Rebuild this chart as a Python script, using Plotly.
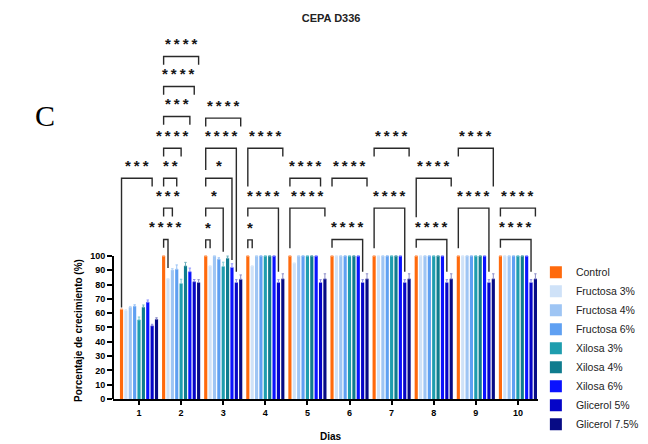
import plotly.graph_objects as go

# ---------------- data ----------------
days = [1, 2, 3, 4, 5, 6, 7, 8, 9, 10]
day_labels = ["1", "2", "3", "4", "5", "6", "7", "8", "9", "10"]

series_names = ["Control", "Fructosa 3%", "Fructosa 4%", "Fructosa 6%",
                "Xilosa 3%", "Xilosa 4%", "Xilosa 6%", "Glicerol 5%", "Glicerol 7.5%"]

control = [62.8, 100, 100, 100, 100, 100, 100, 100, 100, 100]
fructosa3 = [61.9, 84.0, 93.0, 93.0, 95.0, 100, 100, 100, 100, 100]
fructosa4 = [64.2, 90.2, 100, 100, 100, 100, 100, 100, 100, 100]
fructosa6 = [64.9, 90.7, 97.7, 100, 100, 100, 100, 100, 100, 100]
xilosa3 = [55.3, 80.7, 92.6, 100, 100, 100, 100, 100, 100, 100]
xilosa4 = [64.2, 93.0, 98.4, 100, 100, 100, 100, 100, 100, 100]
xilosa6 = [67.7, 89.0, 92.0, 100, 100, 100, 100, 100, 100, 100]
glicerol5 = [51.2, 82.0, 81.4, 81.4, 81.4, 81.4, 81.4, 81.4, 81.4, 81.4]
glicerol75 = [55.8, 81.4, 83.7, 84.0, 84.0, 84.0, 84.0, 84.0, 84.0, 84.0]

err_control = [0, 0, 0, 0, 0, 0, 0, 0, 0, 0]
err_fructosa3 = [0.5, 0, 0, 0, 0, 0, 0, 0, 0, 0]
err_fructosa4 = [0.5, 1.0, 0, 0, 0, 0, 0, 0, 0, 0]
err_fructosa6 = [1.0, 3.0, 1.0, 0, 0, 0, 0, 0, 0, 0]
err_xilosa3 = [2.0, 3.0, 3.0, 0, 0, 0, 0, 0, 0, 0]
err_xilosa4 = [1.5, 2.5, 1.5, 0, 0, 0, 0, 0, 0, 0]
err_xilosa6 = [1.5, 2.5, 2.5, 0, 0, 0, 0, 0, 0, 0]
err_glicerol5 = [1.0, 1.5, 2.0, 2.0, 2.0, 2.0, 2.0, 2.0, 2.0, 2.0]
err_glicerol75 = [1.0, 2.0, 3.0, 3.5, 3.5, 3.5, 3.5, 3.5, 3.5, 3.5]

# significance brackets: control bar of a day vs bar index (0..8)
br_day = [1, 2, 2, 2, 2, 2, 2, 2, 3, 3, 3, 3, 3, 4, 4, 4, 5, 5, 6, 6, 7, 7, 8, 8, 9, 9, 10, 10]
br_bar = [7, 8, 7, 6, 4, 3, 2, 1, 8, 7, 6, 4, 1, 8, 7, 1, 7, 8, 8, 7, 8, 7, 8, 7, 8, 7, 8, 7]
br_level = [154.3, 239.4, 218.4, 197.4, 175.3, 154.3, 133.4, 111.5,
            196.3, 175.3, 154.3, 133.4, 111.2,
            175.3, 133.4, 111.2,
            154.3, 133.4,
            154.3, 111.5,
            175.3, 133.4,
            154.3, 111.5,
            175.3, 133.4,
            133.4, 111.5]
# leg bottoms (None = short leg)
br_left_bottom = [64.0, None, None, None, None, None, None, None,
                  None, 160.1, None, None, None,
                  148.5, None, None,
                  None, 105.4,
                  None, None,
                  None, 105.4,
                  127.1, None,
                  None, 105.4,
                  None, None]
br_right_bottom = [None, None, None, None, None, None, None, 91.6,
                   None, 89.0, 97.2, 103.0, None,
                   None, 89.0, None,
                   None, None,
                   None, 89.0,
                   None, 89.0,
                   None, 89.0,
                   148.5, 89.0,
                   None, 89.0]
br_label = ["***", "****", "****", "***", "****", "**", "***", "****",
            "****", "****", "*", "*", "*",
            "****", "****", "*",
            "****", "****",
            "****", "****",
            "****", "****",
            "****", "****",
            "****", "****",
            "****", "****"]

# ---------------- style ----------------
colors = ["#FF6A0D", "#CFE2F8", "#9EC5F4", "#5FA0F2", "#1E9DAE",
          "#0F7C8E", "#0A12FF", "#0505C8", "#070B85"]
err_colors = ["#FFB080", "#DCEAFA", "#BCD8F8", "#9CC4F6", "#7CCAD4",
              "#70B0BC", "#8C90FF", "#8C8CE6", "#8C8EC8"]
values = [control, fructosa3, fructosa4, fructosa6, xilosa3, xilosa4,
          xilosa6, glicerol5, glicerol75]
errors = [err_control, err_fructosa3, err_fructosa4, err_fructosa6, err_xilosa3,
          err_xilosa4, err_xilosa6, err_glicerol5, err_glicerol75]

BARGAP = 0.065
NSER = len(series_names)
pitch = (1 - BARGAP) / NSER
FONT = "Liberation Sans, Arial, sans-serif"

fig = go.Figure()
for name, vals, errs, col, ecol in zip(series_names, values, errors, colors, err_colors):
    fig.add_trace(go.Bar(
        x=days, y=vals, name=name, marker=dict(color=col, line=dict(width=0)),
        error_y=dict(type="data", array=errs, arrayminus=[0] * len(errs),
                     symmetric=False, color=ecol, thickness=1, width=1.2),
    ))

def bar_x(day, idx):
    return day + (idx - (NSER - 1) / 2) * pitch

SHORT = 5.8
shapes = []
annotations = []
for d, b, lev, lb, rb, lab in zip(br_day, br_bar, br_level, br_left_bottom,
                                   br_right_bottom, br_label):
    xl = bar_x(d, 0)
    xr = bar_x(d, b)
    yl = lb if lb is not None else lev - SHORT
    yr = rb if rb is not None else lev - SHORT
    shapes.append(dict(type="path", xref="x", yref="y",
                       path=f"M {xl},{yl} L {xl},{lev} L {xr},{lev} L {xr},{yr}",
                       line=dict(color="#2a2a2a", width=1.4)))
    annotations.append(dict(x=(xl + xr) / 2, y=lev + 1.5, xref="x", yref="y",
                            text="<b>" + "\u2009".join(lab) + "</b>", showarrow=False,
                            yanchor="bottom", xanchor="center",
                            font=dict(family=FONT, size=15, color="#151515")))

# y axis line only from 0 to 100
shapes.append(dict(type="line", xref="paper", yref="y", x0=0, x1=0, y0=0, y1=100,
                   line=dict(color="black", width=2)))

annotations.append(dict(text="C", x=-0.16, y=0.763, xref="paper", yref="paper",
                        showarrow=False, xanchor="center", yanchor="middle",
                        font=dict(family="Liberation Serif, Times New Roman, serif",
                                  size=30, color="black")))
annotations.append(dict(text="<b>Porcentaje de crecimiento (%)</b>", x=-0.083, y=0.185,
                        xref="paper", yref="paper", showarrow=False, textangle=-90,
                        xanchor="center", yanchor="middle",
                        font=dict(family=FONT, size=10, color="black")))
annotations.append(dict(text="<b>Dias</b>", x=0.513, y=-0.1, xref="paper", yref="paper",
                        showarrow=False, xanchor="center", yanchor="middle",
                        font=dict(family=FONT, size=10, color="black")))

fig.update_layout(
    width=648, height=444,
    margin=dict(l=113, r=110, t=27, b=45, autoexpand=False),
    paper_bgcolor="white", plot_bgcolor="white",
    barmode="group", bargap=BARGAP, bargroupgap=0.28,
    title=dict(text="<b>CEPA D336</b>", x=0.511, xanchor="center", y=0.959,
               yanchor="middle", font=dict(family=FONT, size=11, color="#222")),
    font=dict(family=FONT, color="black"),
    showlegend=True,
    legend=dict(x=0.995, y=0.38, xanchor="left", yanchor="top",
                font=dict(family=FONT, size=10.5, color="#222"),
                bgcolor="rgba(0,0,0,0)", traceorder="normal"),
    xaxis=dict(range=[0.382, 10.477], tickvals=days, ticktext=[f"<b>{t}</b>" for t in day_labels],
               showline=True, linecolor="black", linewidth=2, ticks="outside",
               ticklen=4, tickwidth=1.5, tickcolor="black", showgrid=False,
               zeroline=False, tickfont=dict(family=FONT, size=9, color="black")),
    yaxis=dict(range=[0, 260], tickvals=list(range(0, 101, 10)),
               ticktext=[f"<b>{v}</b>" for v in range(0, 101, 10)],
               showline=False, ticks="outside", ticklen=5, tickwidth=1.5,
               tickcolor="black", showgrid=False, zeroline=False,
               tickfont=dict(family=FONT, size=9, color="black")),
    shapes=shapes, annotations=annotations,
)

fig.write_html("out.html")
